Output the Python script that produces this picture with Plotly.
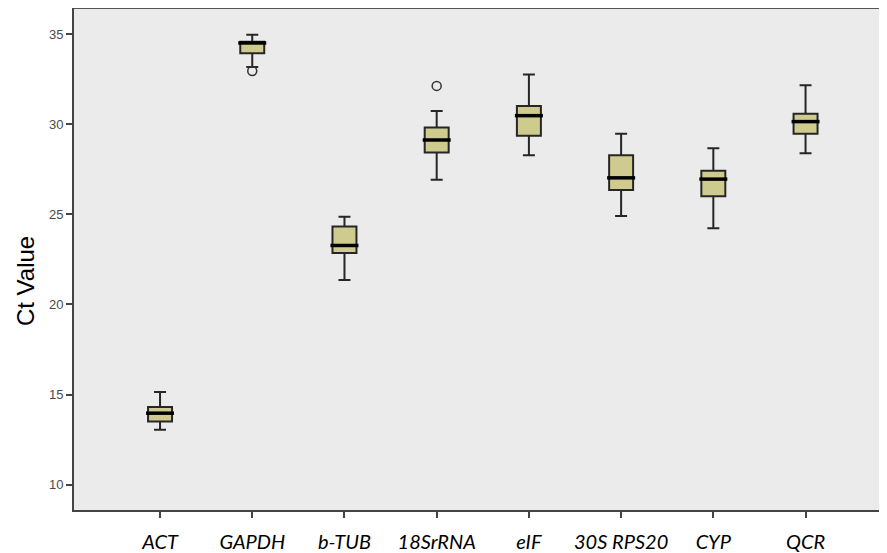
import plotly.graph_objects as go

genes = ["ACT", "GAPDH", "b-TUB", "18SrRNA", "eIF", "30S RPS20", "CYP", "QCR"]
lower_whisker = [13.05, 33.17, 21.35, 26.91, 28.28, 24.91, 24.23, 28.39]
q1_vals = [13.51, 33.93, 22.85, 28.42, 29.35, 26.35, 26.00, 29.46]
median_vals = [13.97, 34.50, 23.27, 29.12, 30.47, 27.02, 26.95, 30.14]
q3_vals = [14.31, 34.57, 24.32, 29.81, 31.00, 28.28, 27.41, 30.57]
upper_whisker = [15.14, 34.96, 24.87, 30.73, 32.75, 29.47, 28.66, 32.16]
outlier_genes = ["GAPDH", "18SrRNA"]
outlier_vals = [32.95, 32.12]
y_ticks = [10, 15, 20, 25, 30, 35]

BG = "#EBEBEB"
FILL = "#CFCB8F"
EDGE = "#262626"

fig = go.Figure()
fig.add_trace(go.Box(
    x=genes, q1=q1_vals, median=median_vals, q3=q3_vals,
    lowerfence=lower_whisker, upperfence=upper_whisker,
    boxpoints=False, width=0.26, whiskerwidth=0.5,
    fillcolor=FILL, line=dict(color=EDGE, width=2),
    showlegend=False, hoverinfo="skip",
))
# thick medians
fig.add_trace(go.Scatter(
    x=genes, y=median_vals, mode="markers",
    marker=dict(symbol="line-ew", size=20, line=dict(color="black", width=3.5)),
    showlegend=False, hoverinfo="skip",
))
fig.add_trace(go.Scatter(
    x=outlier_genes, y=outlier_vals, mode="markers",
    marker=dict(symbol="circle-open", size=9, color="#333333", line=dict(width=1.5)),
    showlegend=False, hoverinfo="skip",
))

fig.update_layout(
    width=887, height=553,
    margin=dict(l=66, r=0, t=0, b=51),
    paper_bgcolor="white", plot_bgcolor=BG,
    xaxis=dict(
        type="category", categoryorder="array", categoryarray=genes,
        range=[-0.933, 7.97], showgrid=False, zeroline=False,
        showline=True, linecolor="#444444", linewidth=2,
        ticks="outside", ticklen=6, tickwidth=1.5, tickcolor="#444444",
        ticklabelstandoff=7,
        tickfont=dict(family="Lato", size=20, color="black", style="italic"),
    ),
    yaxis=dict(
        range=[8.6, 36.44], tickvals=y_ticks, showgrid=False, zeroline=False,
        showline=True, linecolor="#444444", linewidth=2,
        ticks="outside", ticklen=6, tickwidth=1.5, tickcolor="#444444",
        tickfont=dict(family="Liberation Sans", size=13, color="#4a4a4a"),
    ),
    shapes=[dict(type="line", xref="paper", yref="paper", x0=0, x1=1, y0=1, y1=1,
                 line=dict(color="#555555", width=2))],
    annotations=[dict(text="Ct Value", xref="paper", yref="paper", x=0, y=0.456,
                      xanchor="center", yanchor="middle", xshift=-49, textangle=-90,
                      showarrow=False,
                      font=dict(family="Liberation Sans", size=24, color="black"))],
)

fig.write_html("out.html")
